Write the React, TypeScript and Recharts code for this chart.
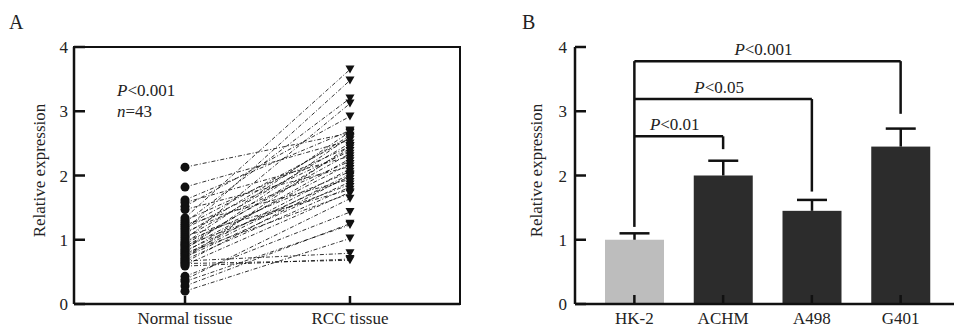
import { LineChart, Line, XAxis, YAxis, BarChart, Bar, ReferenceLine } from "recharts";

// Panel A: paired samples (normal vs RCC), same index = same patient
const tissueGroups = ["Normal tissue", "RCC tissue"];
const normalValues = [
  2.13, 1.82, 1.62, 1.58, 1.52, 1.47, 1.34, 1.3, 1.27, 1.24, 1.21, 1.18, 1.15, 1.12, 1.09,
  1.06, 1.03, 1.0, 0.97, 0.95, 0.93, 0.91, 0.89, 0.87, 0.85, 0.83, 0.81, 0.79, 0.77, 0.75,
  0.73, 0.71, 0.69, 0.67, 0.65, 0.63, 0.61, 0.59, 0.43, 0.38, 0.35, 0.28, 0.2,
];
const rccValues = [
  2.66, 2.55, 2.7, 2.3, 2.92, 2.14, 3.65, 2.45, 3.2, 1.94, 2.58, 2.38, 3.48, 2.22, 2.62,
  1.78, 2.5, 3.12, 2.06, 2.68, 2.34, 1.86, 2.42, 2.18, 2.6, 1.98, 2.26, 1.72, 2.1, 2.02,
  1.9, 2.46, 1.82, 0.79, 2.0, 0.68, 1.74, 0.7, 1.43, 1.64, 1.23, 1.25, 1.02,
];
const groupDomain: [number, number] = [-0.673, 1.667];

// Panel B: cell lines
const cellLines = ["HK-2", "ACHM", "A498", "G401"];
const meanExpression = [1.0, 2.0, 1.45, 2.45];
const errorUpper = [0.1, 0.23, 0.17, 0.28];
const barColors = ["#bdbdbd", "#2c2c2c", "#2c2c2c", "#2c2c2c"];

const brackets = [
  { to: "ACHM", top: 2.61, end: 2.41, label: "0.01" },
  { to: "A498", top: 3.19, end: 1.75, label: "0.05" },
  { to: "G401", top: 3.78, end: 2.96, label: "0.001" },
];
const bracketFrom = "HK-2";
const bracketFromEnd = 1.2;

const yTicks = [0, 1, 2, 3, 4];

const FONT = "'Liberation Serif', 'Times New Roman', serif";
const INK = "#111";
const axisStyle = { stroke: INK, strokeWidth: 2.5 };
const tickStyle = { fontSize: 17, fill: "#222", fontFamily: FONT };
const textStyle = { fontFamily: FONT, fontSize: 17 };

// panel A layout: plot box runs x 74..460, y 47..304
const CHART_A_W = 480;
const CHART_A_H = 329;
const CHART_A_MARGIN = { top: 47, right: 20, bottom: 0, left: 0 };
const A_YAXIS_W = 74;
const A_XAXIS_H = 25;

const pairData = tissueGroups.map((group, gi) => {
  const row: Record<string, any> = { group, pos: gi };
  normalValues.forEach((n, i) => {
    row[`s${i}`] = gi === 0 ? n : rccValues[i];
  });
  return row;
});

const barData = cellLines.map((name, i) => ({
  name,
  mean: meanExpression[i],
  err: errorUpper[i],
  color: barColors[i],
}));

function PairMarker(props: any) {
  const { cx, cy, index } = props;
  if (cx == null || cy == null) return null;
  if (index === 0) return <circle cx={cx} cy={cy} r={4.5} fill={INK} />;
  return <path d={`M${cx - 4.5},${cy - 4} L${cx + 4.5},${cy - 4} L${cx},${cy + 4} Z`} fill={INK} />;
}

function BarWithError(props: any) {
  const { x, y, width, height, payload } = props;
  const ppu = height / payload.mean;
  const top = y - payload.err * ppu;
  const cx = x + width / 2;
  return (
    <g>
      <rect x={x} y={y} width={width} height={height} fill={payload.color} />
      <line x1={cx} x2={cx} y1={y} y2={top} stroke={INK} strokeWidth={2.5} />
      <line x1={cx - 15} x2={cx + 15} y1={top} y2={top} stroke={INK} strokeWidth={2.5} />
    </g>
  );
}

function RotatedLabel({ x, cy }: { x: number; cy: number }) {
  return (
    <text x={x} y={cy} transform={`rotate(-90 ${x} ${cy})`} textAnchor="middle" fill="#222" style={textStyle}>
      Relative expression
    </text>
  );
}

function yLabel(xPos: number) {
  return (p: any) => {
    const vb = p.viewBox;
    return <RotatedLabel x={xPos} cy={vb.y + vb.height / 2 - 5} />;
  };
}

function panelALabel(p: any) {
  const vb = p.viewBox;
  const top = vb.y;
  return (
    <g>
      <RotatedLabel x={45} cy={top + vb.height / 2 - 5} />
      <text x={117} y={top + 49} fill="#222" style={textStyle}>
        <tspan fontStyle="italic">P</tspan>
        {"<0.001"}
      </text>
      <text x={117} y={top + 70} fill="#222" style={textStyle}>
        <tspan fontStyle="italic">n</tspan>
        {"=43"}
      </text>
    </g>
  );
}

function pLabel(text: string) {
  return (p: any) => {
    const vb = p.viewBox;
    return (
      <text x={vb.x + vb.width / 2 - 4} y={vb.y - 6} textAnchor="middle" fill="#222" style={textStyle}>
        <tspan fontStyle="italic">P</tspan>
        {`<${text}`}
      </text>
    );
  };
}

const letterStyle: React.CSSProperties = {
  position: "absolute",
  fontFamily: FONT,
  fontSize: 20,
  color: "#222",
  lineHeight: "20px",
};

// top + right edges of panel A's plot box, laid over the chart
const plotLeft = CHART_A_MARGIN.left + A_YAXIS_W;
const plotRight = CHART_A_W - CHART_A_MARGIN.right;
const plotTop = CHART_A_MARGIN.top;
const plotBottom = CHART_A_H - CHART_A_MARGIN.bottom - A_XAXIS_H;
const frameStyle: React.CSSProperties = {
  position: "absolute",
  left: plotLeft - 1.25,
  top: plotTop - 1.25,
  width: plotRight - plotLeft + 2.5,
  height: plotBottom - plotTop + 2.5,
  boxSizing: "border-box",
  borderTop: `2.5px solid ${INK}`,
  borderRight: `2.5px solid ${INK}`,
  pointerEvents: "none",
};

export default function App() {
  return (
    <div style={{ position: "absolute", left: 0, top: 0, width: 954, height: 329, background: "#fff" }}>
      <div style={{ ...letterStyle, left: 9, top: 12 }}>A</div>
      <div style={{ ...letterStyle, left: 522, top: 12 }}>B</div>

      <div style={{ position: "absolute", left: 0, top: 0, width: CHART_A_W, height: CHART_A_H }}>
        <LineChart width={CHART_A_W} height={CHART_A_H} data={pairData} margin={CHART_A_MARGIN}>
          <XAxis
            dataKey="pos"
            type="number"
            domain={groupDomain}
            ticks={[0, 1]}
            tickFormatter={(v: number) => tissueGroups[v] ?? ""}
            allowDataOverflow
            height={A_XAXIS_H}
            interval={0}
            tickSize={-8}
            tickMargin={16}
            tick={tickStyle}
            axisLine={axisStyle}
            tickLine={axisStyle}
          />
          <YAxis
            type="number"
            domain={[0, 4]}
            ticks={yTicks}
            width={A_YAXIS_W}
            tickSize={-11}
            tickMargin={17}
            tick={tickStyle}
            axisLine={axisStyle}
            tickLine={axisStyle}
            label={{ content: panelALabel }}
          />
          {normalValues.map((_, i) => (
            <Line
              key={i}
              dataKey={`s${i}`}
              type="linear"
              stroke={INK}
              strokeOpacity={0.85}
              strokeWidth={1}
              strokeDasharray="4 2 1 2"
              dot={<PairMarker />}
              activeDot={false}
              isAnimationActive={false}
            />
          ))}
        </LineChart>
        <div style={frameStyle} />
      </div>

      <div style={{ position: "absolute", left: 480, top: 0 }}>
        <BarChart width={474} height={329} data={barData} margin={{ top: 47, right: 0, bottom: 0, left: 0 }}>
          <XAxis
            dataKey="name"
            padding={{ left: 15, right: 9 }}
            height={25}
            interval={0}
            tickSize={-9}
            tickMargin={17}
            tick={tickStyle}
            axisLine={axisStyle}
            tickLine={axisStyle}
          />
          <YAxis
            type="number"
            domain={[0, 4]}
            ticks={yTicks}
            width={95}
            tickSize={-11}
            tickMargin={19}
            tick={tickStyle}
            axisLine={axisStyle}
            tickLine={axisStyle}
            label={{ content: yLabel(62) }}
          />
          <Bar dataKey="mean" barSize={59} shape={<BarWithError />} isAnimationActive={false} />
          <ReferenceLine
            segment={[
              { x: bracketFrom, y: brackets[2].top },
              { x: bracketFrom, y: bracketFromEnd },
            ]}
            stroke={INK}
            strokeWidth={2.5}
          />
          {brackets.map((b) => (
            <ReferenceLine
              key={`h-${b.to}`}
              segment={[
                { x: bracketFrom, y: b.top },
                { x: b.to, y: b.top },
              ]}
              stroke={INK}
              strokeWidth={2.5}
              label={pLabel(b.label)}
            />
          ))}
          {brackets.map((b) => (
            <ReferenceLine
              key={`v-${b.to}`}
              segment={[
                { x: b.to, y: b.top },
                { x: b.to, y: b.end },
              ]}
              stroke={INK}
              strokeWidth={2.5}
            />
          ))}
        </BarChart>
      </div>
    </div>
  );
}
